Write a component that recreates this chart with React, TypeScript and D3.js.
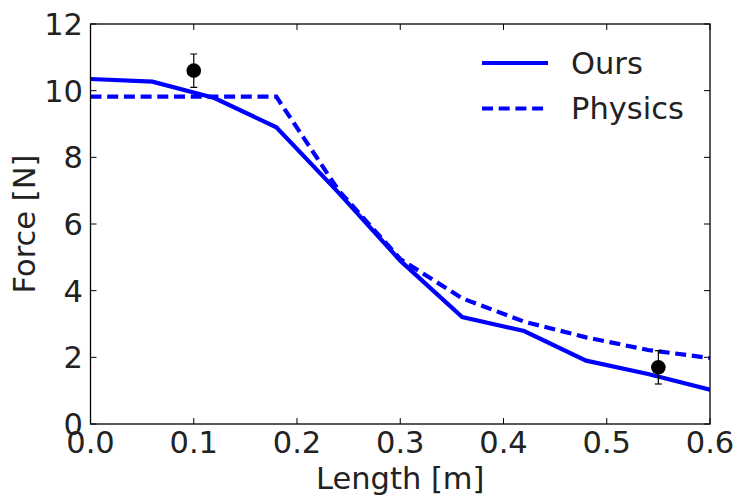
import React from "react";
import * as d3 from "d3";

const oursX = [0, 0.06, 0.12, 0.18, 0.24, 0.3, 0.36, 0.42, 0.48, 0.54, 0.6];
const oursY = [10.35, 10.27, 9.78, 8.9, 6.95, 4.9, 3.21, 2.79, 1.9, 1.5, 1.03];
const physX = [0, 0.06, 0.12, 0.18, 0.24, 0.3, 0.36, 0.42, 0.48, 0.54, 0.6];
const physY = [9.82, 9.82, 9.82, 9.82, 7.02, 4.95, 3.77, 3.07, 2.6, 2.22, 1.98];
const measX = [0.1, 0.55];
const measY = [10.6, 1.7];
const measErr = [0.5, 0.5];
const xTicks = [0, 0.1, 0.2, 0.3, 0.4, 0.5, 0.6];
const yTicks = [0, 2, 4, 6, 8, 10, 12];
const legendLabels = ["Ours", "Physics"];

const W = 744, H = 504;
const L = 90.5, R = 710, T = 24, B = 424;
const FONT = "DejaVu Sans";
const FS = 30.5;
const BLUE = "#0000ff";

export default function App() {
  const x = d3.scaleLinear().domain([0, 0.6]).range([L, R]);
  const y = d3.scaleLinear().domain([0, 12]).range([B, T]);
  const line = d3
    .line<[number, number]>()
    .x((d) => x(d[0]))
    .y((d) => y(d[1]));
  const ours = line(oursX.map((v, i) => [v, oursY[i]] as [number, number])) || "";
  const phys = line(physX.map((v, i) => [v, physY[i]] as [number, number])) || "";
  const tl = 6;
  return (
    <svg
      width={W}
      height={H}
      style={{ position: "absolute", left: 0, top: 0, background: "#fff" }}
      fontFamily={FONT}
    >
      <rect x={0} y={0} width={W} height={H} fill="#fff" />
      <defs>
        <clipPath id="plot">
          <rect x={L} y={T} width={R - L} height={B - T} />
        </clipPath>
      </defs>
      <g clipPath="url(#plot)">
        <path d={phys} fill="none" stroke={BLUE} strokeWidth={4.2} strokeDasharray="11,5.7" />
        <path d={ours} fill="none" stroke={BLUE} strokeWidth={4.2} strokeLinejoin="miter" />
        {measX.map((mx, i) => (
          <g key={i}>
            <line x1={x(mx)} x2={x(mx)} y1={y(measY[i] - measErr[i])} y2={y(measY[i] + measErr[i])} stroke="#000" strokeWidth={1.2} />
            <line x1={x(mx) - 3.5} x2={x(mx) + 3.5} y1={y(measY[i] - measErr[i])} y2={y(measY[i] - measErr[i])} stroke="#000" strokeWidth={1.2} />
            <line x1={x(mx) - 3.5} x2={x(mx) + 3.5} y1={y(measY[i] + measErr[i])} y2={y(measY[i] + measErr[i])} stroke="#000" strokeWidth={1.2} />
            <circle cx={x(mx)} cy={y(measY[i])} r={7.3} fill="#000" />
          </g>
        ))}
      </g>
      {xTicks.map((t) => (
        <g key={"x" + t}>
          <line x1={x(t)} x2={x(t)} y1={B} y2={B - tl} stroke="#000" strokeWidth={1} />
          <line x1={x(t)} x2={x(t)} y1={T} y2={T + tl} stroke="#000" strokeWidth={1} />
          <text x={x(t)} y={453} fontSize={FS} textAnchor="middle" fill="#222">
            {t.toFixed(1)}
          </text>
        </g>
      ))}
      {yTicks.map((t) => (
        <g key={"y" + t}>
          <line x1={L} x2={L + tl} y1={y(t)} y2={y(t)} stroke="#000" strokeWidth={1} />
          <line x1={R} x2={R - tl} y1={y(t)} y2={y(t)} stroke="#000" strokeWidth={1} />
          <text x={83} y={y(t)} dy="0.36em" fontSize={FS} textAnchor="end" fill="#222">
            {t}
          </text>
        </g>
      ))}
      <rect x={L} y={T} width={R - L} height={B - T} fill="none" stroke="#000" strokeWidth={1.3} />
      <text x={(L + R) / 2} y={489} fontSize={FS} textAnchor="middle" fill="#222">
        Length [m]
      </text>
      <text
        transform={`translate(35,${(T + B) / 2}) rotate(-90)`}
        fontSize={FS}
        textAnchor="middle"
        fill="#222"
      >
        Force [N]
      </text>
      {legendLabels.map((lab, i) => (
        <g key={lab}>
          <line
            x1={482}
            x2={548}
            y1={63 + i * 45.5}
            y2={63 + i * 45.5}
            stroke={BLUE}
            strokeWidth={4.2}
            strokeDasharray={i === 1 ? "11,5.7" : undefined}
          />
          <text x={571} y={63 + i * 45.5} dy="0.36em" fontSize={FS} fill="#222">
            {lab}
          </text>
        </g>
      ))}
    </svg>
  );
}
